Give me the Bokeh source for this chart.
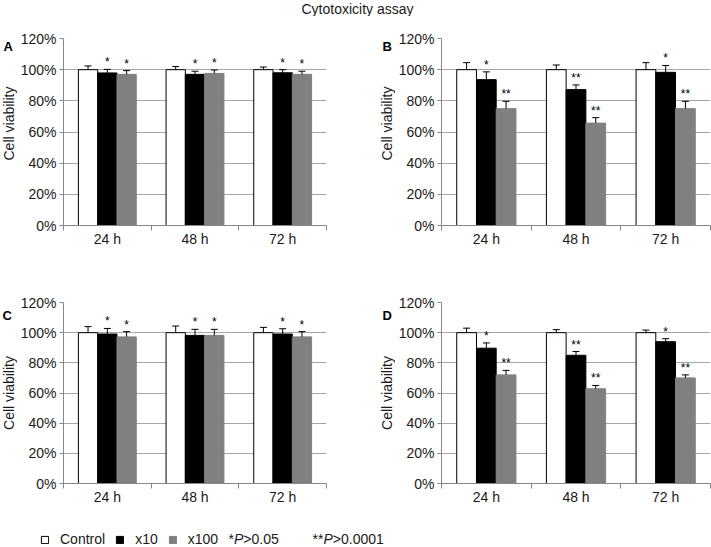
import math
from bokeh.plotting import figure
from bokeh.layouts import column, row
from bokeh.models import (Range1d, FixedTicker, PrintfTickFormatter, ColumnDataSource,
                          Whisker, TeeHead, Label, Legend, LegendItem)
from bokeh.embed import file_html
from bokeh.resources import INLINE
from bokeh.core.properties import value

# ---------------- data ----------------
TITLE = "Cytotoxicity assay"
times = ["24 h", "48 h", "72 h"]
series_names = ["Control", "x10", "x100"]
y_ticks = [0, 20, 40, 60, 80, 100, 120]
y_label = "Cell viability"
note_1 = ("*", "P", ">0.05")
note_2 = ("**", "P", ">0.0001")

a_control = [100, 100, 100]
a_control_err = [2.4, 2.0, 1.7]
a_x10 = [97.9, 97.0, 98.0]
a_x10_err = [2.3, 2.0, 2.0]
a_x100 = [97.0, 97.6, 97.0]
a_x100_err = [2.4, 2.2, 2.0]
a_x10_sig = ["*", "*", "*"]
a_x100_sig = ["*", "*", "*"]

b_control = [100, 100, 100]
b_control_err = [4.5, 3.0, 4.5]
b_x10 = [93.6, 87.2, 98.3]
b_x10_err = [5.0, 3.0, 4.4]
b_x100 = [75.0, 65.7, 75.0]
b_x100_err = [4.7, 3.5, 4.7]
b_x10_sig = ["*", "**", "*"]
b_x100_sig = ["**", "**", "**"]

c_control = [100, 100, 100]
c_control_err = [4.0, 4.4, 3.5]
c_x10 = [99.1, 98.2, 99.1]
c_x10_err = [3.7, 4.0, 3.5]
c_x100 = [97.2, 98.2, 97.2]
c_x100_err = [3.5, 4.0, 3.5]
c_x10_sig = ["*", "*", "*"]
c_x100_sig = ["*", "*", "*"]

d_control = [100, 100, 100]
d_control_err = [3.0, 2.0, 1.7]
d_x10 = [89.7, 85.0, 94.0]
d_x10_err = [3.5, 2.5, 2.0]
d_x100 = [72.0, 62.8, 70.0]
d_x100_err = [3.0, 2.2, 2.0]
d_x10_sig = ["*", "**", "*"]
d_x100_sig = ["**", "**", "**"]

# ---------------- style ----------------
FONT = "Liberation Sans"
TEXT_COLOR = "#1a1a1a"
AXIS_COLOR = "#868686"
GRID_COLOR = "#a6a6a6"
FILLS = ["white", "black", "#808080"]
LINES = ["black", "black", "#808080"]
OFFSETS = [-0.22, 0.0, 0.22]
BAR_W = 0.22


def make_panel(vals, errs, sigs, width, height, b_left, b_right, b_top, b_bottom):
    p = figure(width=width, height=height, output_backend="svg", toolbar_location=None,
               x_range=Range1d(0, len(times)), y_range=Range1d(0, 120),
               min_border_left=b_left, min_border_right=b_right,
               min_border_top=b_top, min_border_bottom=b_bottom)
    p.outline_line_color = None
    p.background_fill_color = "white"
    p.border_fill_color = "white"

    for k in range(3):
        xs = [i + 0.5 + OFFSETS[k] for i in range(len(times))]
        ups = [v + e for v, e in zip(vals[k], errs[k])]
        src = ColumnDataSource(dict(x=xs, top=vals[k], upper=ups))
        p.vbar(x="x", top="top", width=BAR_W, bottom=0, source=src,
               fill_color=FILLS[k], line_color=LINES[k], line_width=1)
        w = Whisker(base="x", lower="top", upper="upper", source=src, dimension="height",
                    line_color="black", line_width=1,
                    upper_head=TeeHead(size=7, line_color="black", line_width=1),
                    lower_head=None, level="annotation")
        p.add_layout(w)
        if sigs[k] is not None:
            tsrc = ColumnDataSource(dict(x=xs, y=ups, t=sigs[k]))
            p.text(x="x", y="y", text="t", source=tsrc, text_align="center",
                   text_baseline="bottom", text_font=value(FONT), text_font_size="12px",
                   text_color="black")

    # y axis
    p.yaxis.ticker = FixedTicker(ticks=y_ticks)
    p.yaxis.formatter = PrintfTickFormatter(format="%d%%")
    p.yaxis.axis_line_color = AXIS_COLOR
    p.yaxis.major_tick_line_color = AXIS_COLOR
    p.yaxis.major_tick_out = 4
    p.yaxis.major_tick_in = 0
    p.yaxis.minor_tick_line_color = None
    p.yaxis.major_label_text_font = FONT
    p.yaxis.major_label_text_font_size = "14px"
    p.yaxis.major_label_text_color = TEXT_COLOR
    p.yaxis.major_label_standoff = 3

    # x axis
    centers = [i + 0.5 for i in range(len(times))]
    bounds = [i for i in range(len(times) + 1)]
    p.xaxis.ticker = FixedTicker(ticks=centers, minor_ticks=bounds)
    p.xaxis.major_label_overrides = {c: t for c, t in zip(centers, times)}
    p.xaxis.axis_line_color = AXIS_COLOR
    p.xaxis.major_tick_line_color = None
    p.xaxis.major_tick_out = 0
    p.xaxis.major_tick_in = 0
    p.xaxis.minor_tick_line_color = AXIS_COLOR
    p.xaxis.minor_tick_out = 5
    p.xaxis.minor_tick_in = 0
    p.xaxis.major_label_text_font = FONT
    p.xaxis.major_label_text_font_size = "14px"
    p.xaxis.major_label_text_color = TEXT_COLOR
    p.xaxis.major_label_standoff = 0

    p.xgrid.visible = False
    p.ygrid.grid_line_color = GRID_COLOR
    p.ygrid.grid_line_width = 1
    return p


def make_side(letter, width, height, frame_top, frame_h, letter_x, letter_from_top, label_x):
    """Narrow strip left of a panel: holds the panel letter and the rotated y axis title."""
    s = figure(width=width, height=height, output_backend="svg", toolbar_location=None,
               x_range=Range1d(0, width), y_range=Range1d(0, height),
               min_border=0, x_axis_type=None, y_axis_type=None)
    s.outline_line_color = None
    s.grid.visible = False
    s.add_layout(Label(x=label_x, y=height - frame_top - frame_h / 2, text=y_label,
                       angle=math.pi / 2, text_font=FONT, text_font_size="14px",
                       text_color=TEXT_COLOR, text_align="center", text_baseline="top"))
    s.add_layout(Label(x=letter_x, y=height - letter_from_top, text=letter,
                       text_font=FONT, text_font_size="13px", text_font_style="bold",
                       text_color="black", text_align="left", text_baseline="middle"))
    return s


W_TOTAL = 711
H1, H2 = 254, 245
SIDE_A, SIDE_B = 17, 17
W_A = 361
W_B = W_TOTAL - SIDE_A - W_A - SIDE_B

sa = make_side("A", SIDE_A, H1, 22, H1 - 22 - 45, 3, 11, 0)
pa = make_panel([a_control, a_x10, a_x100], [a_control_err, a_x10_err, a_x100_err],
                [None, a_x10_sig, a_x100_sig], W_A, H1, 46, 52, 22, 45)
sb = make_side("B", SIDE_B, H1, 22, H1 - 22 - 45, 4, 11, 0)
pb = make_panel([b_control, b_x10, b_x100], [b_control_err, b_x10_err, b_x100_err],
                [None, b_x10_sig, b_x100_sig], W_B, H1, 42, 1, 22, 45)

sc = make_side("C", SIDE_A, H2, 32, H2 - 32 - 32, 2, 17, 0)
pc = make_panel([c_control, c_x10, c_x100], [c_control_err, c_x10_err, c_x100_err],
                [None, c_x10_sig, c_x100_sig], W_A, H2, 46, 52, 32, 32)
sd = make_side("D", SIDE_B, H2, 32, H2 - 32 - 32, 4, 17, 0)
pd = make_panel([d_control, d_x10, d_x100], [d_control_err, d_x10_err, d_x100_err],
                [None, d_x10_sig, d_x100_sig], W_B, H2, 42, 1, 32, 32)

# header with the title
ph = figure(width=W_TOTAL, height=16, output_backend="svg", toolbar_location=None,
            x_range=Range1d(0, W_TOTAL), y_range=Range1d(0, 16),
            min_border=0, x_axis_type=None, y_axis_type=None)
ph.outline_line_color = None
ph.grid.visible = False
ph.add_layout(Label(x=357, y=8, text=TITLE, text_font=FONT, text_font_size="14px",
                    text_color=TEXT_COLOR, text_align="center", text_baseline="middle"))

# legend strip
H_L = 547 - 16 - H1 - H2
pl = figure(width=W_TOTAL, height=H_L, output_backend="svg", toolbar_location=None,
            x_range=Range1d(0, W_TOTAL), y_range=Range1d(0, H_L),
            min_border=0, x_axis_type=None, y_axis_type=None)
pl.outline_line_color = None
pl.grid.visible = False
items = []
for k, name in enumerate(series_names):
    # zero-size swatch renderer, only used to give the legend its glyph
    r = pl.vbar(x=[0], top=[0], bottom=0, width=0, fill_color=FILLS[k], line_color=LINES[k])
    items.append(LegendItem(label=name, renderers=[r]))
leg = Legend(items=items, orientation="horizontal", location=(40, 0),
             glyph_width=9, glyph_height=9, label_standoff=11, spacing=10,
             padding=0, margin=0, border_line_color=None, background_fill_alpha=0,
             label_text_font=FONT, label_text_font_size="14px", label_text_color=TEXT_COLOR,
             label_height=16)
pl.add_layout(leg)


def add_note(parts, x0):
    stars, pp, rest = parts
    w_star = 5.5 * len(stars)
    yy = 9
    pl.add_layout(Label(x=x0, y=yy, text=stars, text_font=FONT, text_font_size="14px",
                        text_color=TEXT_COLOR, text_baseline="middle"))
    pl.add_layout(Label(x=x0 + w_star, y=yy, text=pp, text_font=FONT, text_font_size="14px",
                        text_font_style="italic", text_color=TEXT_COLOR, text_baseline="middle"))
    pl.add_layout(Label(x=x0 + w_star + 9.3, y=yy, text=rest, text_font=FONT,
                        text_font_size="14px", text_color=TEXT_COLOR, text_baseline="middle"))


add_note(note_1, 228)
add_note(note_2, 312)

layout = column(ph, row(sa, pa, sb, pb), row(sc, pc, sd, pd), pl)

with open("out.html", "w") as f:
    f.write(file_html(layout, INLINE))
